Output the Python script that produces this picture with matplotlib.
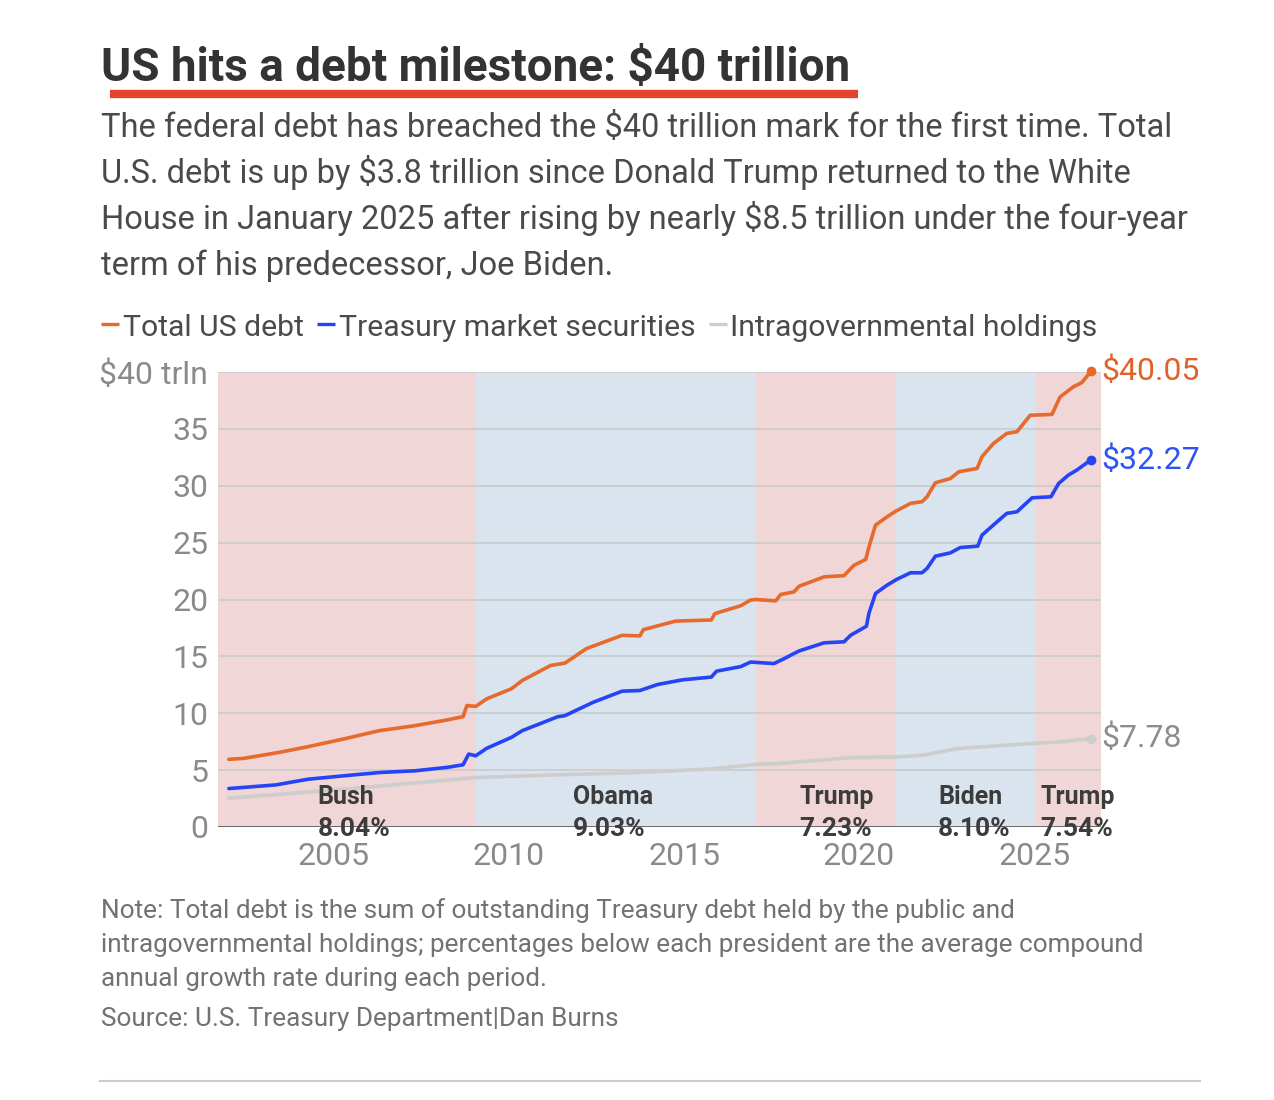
import matplotlib
matplotlib.use('Agg')
import matplotlib.pyplot as plt
from matplotlib import font_manager
from matplotlib.lines import Line2D

# series (decimal years, trillion $)
total_x = [2002.0, 2002.42, 2003.44, 2004.26, 2005.28, 2006.3, 2007.32, 2008.23, 2008.69, 2008.8,
           2009.05, 2009.36, 2010.07, 2010.38, 2011.19, 2011.6, 2012.21, 2013.23, 2013.74, 2013.84,
           2014.76, 2015.78, 2015.88, 2016.62, 2016.9, 2017.05, 2017.62, 2017.76, 2018.14, 2018.29,
           2019.0, 2019.57, 2019.85, 2020.19, 2020.28, 2020.47, 2020.8, 2021.07, 2021.47, 2021.8,
           2021.94, 2022.18, 2022.61, 2022.85, 2023.37, 2023.51, 2023.84, 2024.22, 2024.51, 2024.89,
           2025.51, 2025.74, 2026.12, 2026.36, 2026.62]
total_y = [5.95, 6.03, 6.56, 7.06, 7.74, 8.47, 8.91, 9.41, 9.7, 10.68,
           10.6, 11.26, 12.15, 12.88, 14.2, 14.41, 15.68, 16.85, 16.8, 17.35,
           18.1, 18.2, 18.76, 19.45, 19.95, 20.0, 19.88, 20.44, 20.67, 21.17,
           21.99, 22.1, 23.0, 23.52, 24.6, 26.54, 27.27, 27.8, 28.45, 28.6,
           29.03, 30.26, 30.64, 31.23, 31.52, 32.55, 33.72, 34.6, 34.75, 36.2,
           36.27, 37.8, 38.7, 39.06, 40.05]

market_x = [2002.0, 2003.34, 2004.26, 2005.28, 2006.3, 2007.32, 2008.23, 2008.69, 2008.85, 2009.05,
            2009.36, 2010.07, 2010.38, 2011.4, 2011.6, 2012.41, 2013.23, 2013.74, 2014.25, 2014.96,
            2015.78, 2015.93, 2016.62, 2016.9, 2017.05, 2017.57, 2017.86, 2018.14, 2018.29, 2019.0,
            2019.57, 2019.76, 2020.21, 2020.28, 2020.47, 2020.8, 2021.07, 2021.47, 2021.8, 2021.94,
            2022.18, 2022.61, 2022.89, 2023.39, 2023.51, 2023.94, 2024.22, 2024.51, 2024.94, 2025.48,
            2025.7, 2025.98, 2026.22, 2026.62]
market_y = [3.38, 3.7, 4.2, 4.5, 4.79, 4.94, 5.24, 5.47, 6.41, 6.26,
            6.91, 7.88, 8.47, 9.7, 9.79, 10.97, 11.94, 12.0, 12.53, 12.94,
            13.18, 13.7, 14.1, 14.5, 14.47, 14.37, 14.8, 15.25, 15.48, 16.19,
            16.28, 16.86, 17.65, 18.77, 20.53, 21.26, 21.76, 22.35, 22.35, 22.73,
            23.81, 24.1, 24.57, 24.69, 25.66, 26.83, 27.57, 27.71, 28.94, 29.03,
            30.2, 30.94, 31.38, 32.27]

intra_x = [2002.0, 2005.28, 2009.05, 2011.4, 2013.43, 2015.68, 2017.05, 2017.67, 2019.76, 2021.07,
           2021.8, 2022.8, 2023.75, 2024.89, 2025.74, 2026.62]
intra_y = [2.53, 3.32, 4.35, 4.59, 4.76, 5.09, 5.5, 5.57, 6.1, 6.16,
           6.3, 6.89, 7.1, 7.33, 7.48, 7.78]

# presidential terms
period_names = ['Bush', 'Obama', 'Trump', 'Biden', 'Trump']
period_rates = ['8.04%', '9.03%', '7.23%', '8.10%', '7.54%']
period_starts = [2001.69, 2009.05, 2017.05, 2021.05, 2025.05]
period_ends = [2009.05, 2017.05, 2021.05, 2025.05, 2026.91]

year_ticks = [2005, 2010, 2015, 2020, 2025]
value_ticks = [0, 5, 10, 15, 20, 25, 30, 35, 40]
value_labels = ['0', '5', '10', '15', '20', '25', '30', '35', '$40 trln']

series_names = ['Total US debt', 'Treasury market securities', 'Intragovernmental holdings']

# fonts
names = {f.name for f in font_manager.fontManager.ttflist}
FONT = 'Roboto' if 'Roboto' in names else 'DejaVu Sans'
plt.rcParams['font.family'] = [FONT, 'DejaVu Sans']

ORANGE = '#e8692c'
BLUE = '#2444f5'
GREY = '#cdcdcd'
PINK_BG = '#f0d6d6'
BLUE_BG = '#d9e4ef'
TEXT = '#4a4a4a'

W, H = 1274, 1100
fig = plt.figure(figsize=(W / 100, H / 100), dpi=100)
renderer = fig.canvas.get_renderer()


def fx(px):
    return px / W


def fy(py):
    return 1 - py / H


def width_px(t):
    return t.get_window_extent(renderer).width


def fit(t, target):
    t.set_fontsize(t.get_fontsize() * target / width_px(t))
    return t.get_fontsize()


# title + red bar
title = fig.text(fx(101), fy(81), 'US hits a debt milestone: $40 trillion', fontsize=30,
                 fontweight='bold', color='#333333', va='baseline', ha='left')
fit(title, 749)
fig.add_artist(Line2D([fx(110), fx(858)], [fy(94), fy(94)], color='#e4432a', lw=6,
                      solid_capstyle='butt', transform=fig.transFigure))

# subtitle
sub_lines = ['The federal debt has breached the $40 trillion mark for the first time. Total',
             'U.S. debt is up by $3.8 trillion since Donald Trump returned to the White',
             'House in January 2025 after rising by nearly $8.5 trillion under the four-year',
             'term of his predecessor, Joe Biden.']
t0 = fig.text(fx(101), fy(137), sub_lines[0], fontsize=20, color=TEXT, va='baseline')
sub_size = fit(t0, 1067)
for i, s in enumerate(sub_lines[1:], start=1):
    fig.text(fx(101), fy(137 + 46 * i), s, fontsize=sub_size, color=TEXT, va='baseline')

# legend: dash + label, laid out left to right to span 101..1101 px
legend_cols = [ORANGE, BLUE, GREY]
probe = fig.text(0, 0, '  '.join(series_names), fontsize=sub_size)
leg_size = sub_size * (1101 - 101 - 3 * 22) / width_px(probe)
probe.remove()
x = 101
for label, col in zip(series_names, legend_cols):
    fig.add_artist(Line2D([fx(x), fx(x + 18)], [fy(324), fy(324)], color=col, lw=2.4,
                          solid_capstyle='butt', transform=fig.transFigure))
    t = fig.text(fx(x + 22), fy(336), label, fontsize=leg_size, color=TEXT, va='baseline')
    x = x + 22 + width_px(t) + 13

# chart area
ax = fig.add_axes([fx(218), fy(827), (1101 - 218) / W, (827 - 372) / H])
for i, (a, b) in enumerate(zip(period_starts, period_ends)):
    ax.axvspan(a, b, color=PINK_BG if i % 2 == 0 else BLUE_BG, lw=0, zorder=0)
for v in value_ticks[1:]:
    ax.axhline(v, color='#c9c9c9', lw=1.1, zorder=1)
ax.axhline(0, color='#555555', lw=1.2, zorder=1)

ax.plot(intra_x, intra_y, color=GREY, lw=2.6, zorder=3, solid_capstyle='round')
ax.plot(market_x, market_y, color=BLUE, lw=2.6, zorder=4, solid_capstyle='round')
ax.plot(total_x, total_y, color=ORANGE, lw=2.6, zorder=5, solid_capstyle='round')
for xs, ys, col in [(total_x, total_y, ORANGE), (market_x, market_y, BLUE),
                    (intra_x, intra_y, GREY)]:
    ax.plot(xs[-1], ys[-1], 'o', color=col, ms=6, zorder=6, clip_on=False)

# end labels
for ys, col in [(total_y, '#e0622b'), (market_y, '#2f52f2'), (intra_y, '#8c8c8c')]:
    ax.text(1.0, ys[-1], f'${ys[-1]:.2f}', transform=ax.get_yaxis_transform(), color=col,
            fontsize=23, va='center', ha='left', clip_on=False)

# president labels
label_left = [2004.54, 2011.83, 2018.29, 2022.26, 2025.17]
for x, name, rate in zip(label_left, period_names, period_rates):
    ax.text(x, 2.02, name, fontsize=18, fontweight='bold', color='#3c3c3c', ha='left',
            va='baseline', zorder=7, clip_on=False)
    ax.text(x, -0.79, rate, fontsize=19, fontweight='bold', color='#3c3c3c', ha='left',
            va='baseline', zorder=7, clip_on=False)

ax.set_xlim(period_starts[0], period_ends[-1])
ax.set_ylim(0, 40)
ax.set_xticks(year_ticks)
ax.set_xticklabels([str(y) for y in year_ticks])
ax.set_yticks(value_ticks)
ax.set_yticklabels(value_labels)
ax.tick_params(length=0, labelsize=23, labelcolor='#8a8a8a')
ax.tick_params(axis='y', pad=7)
ax.tick_params(axis='x', pad=11)
for s in ax.spines.values():
    s.set_visible(False)

# notes
NOTE = '#727272'
note_lines = ['Note: Total debt is the sum of outstanding Treasury debt held by the public and',
              'intragovernmental holdings; percentages below each president are the average compound',
              'annual growth rate during each period.']
n1 = fig.text(fx(101), fy(952), note_lines[1], fontsize=16, color=NOTE, va='baseline')
note_size = fit(n1, 1043)
fig.text(fx(101), fy(918), note_lines[0], fontsize=note_size, color=NOTE, va='baseline')
fig.text(fx(101), fy(986), note_lines[2], fontsize=note_size, color=NOTE, va='baseline')
fig.text(fx(101), fy(1026), 'Source: U.S. Treasury Department|Dan Burns', fontsize=note_size,
         color=NOTE, va='baseline')

fig.add_artist(Line2D([fx(100), fx(1200)], [fy(1081), fy(1081)], color='#cccccc', lw=1.5,
                      transform=fig.transFigure))

fig.savefig('out.png', dpi=100, facecolor='white')
